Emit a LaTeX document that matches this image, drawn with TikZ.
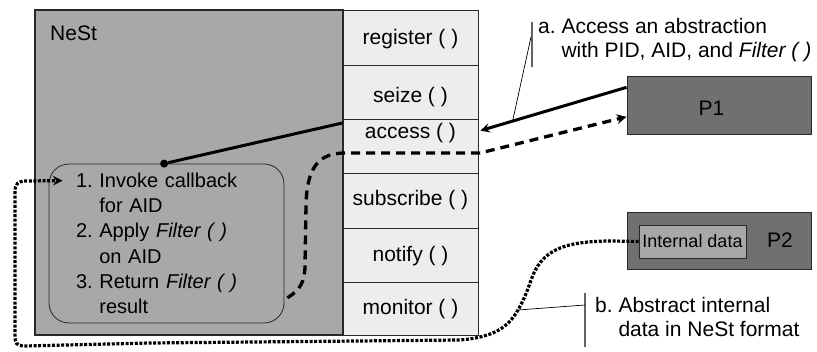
\documentclass[tikz,border=0pt]{standalone}
\usepackage{fontspec}
\setmainfont{Liberation Sans}
\usepackage{tikz}
\usetikzlibrary{arrows,shapes,calc,positioning}
\definecolor{grisNest}{RGB}{168,168,168}
\definecolor{grisCelda}{RGB}{237,237,237}
\definecolor{grisProc}{RGB}{112,112,112}
\definecolor{grisDato}{RGB}{168,168,168}
\definecolor{grisOscuro}{RGB}{40,40,40}
\definecolor{grisBarra}{RGB}{100,100,100}
\tikzstyle{txt}=[font=\fontsize{21}{25.3}\selectfont, inner sep=0pt]
\tikzstyle{ntxt}=[font=\fontsize{21}{24}\selectfont, inner sep=0pt,
                  align=left]
\tikzstyle{cell}=[rectangle, draw=grisOscuro, fill=grisCelda,
                  line width=0.9pt, minimum width=135pt, inner sep=0pt]
\tikzstyle{proc}=[rectangle, draw=grisOscuro, fill=grisProc,
                  line width=0.9pt, minimum width=184pt,
                  minimum height=58pt, inner sep=0pt]
\tikzstyle{link}=[line width=3pt]
\tikzstyle{call}=[->, >=stealth, line width=3pt]
\tikzstyle{back}=[->, >=stealth, line width=3.3pt,
                  dash pattern=on 9pt off 6pt]
\tikzstyle{abst}=[->, >=stealth, line width=3.2pt,
                  dash pattern=on 3pt off 1.6pt]
\tikzstyle{note}=[line width=0.7pt]
\tikzstyle{bar}=[line width=1.1pt, grisBarra]

\begin{document}
\frenchspacing
\begin{tikzpicture}[x=1pt,y=-1pt]
    \useasboundingbox (0,0) rectangle (817,352);

    \node (nest) [rectangle, draw=grisOscuro, fill=grisNest, line width=1.1pt,
        minimum width=308pt, minimum height=325pt, inner sep=0pt] at (189,172.5) {};
    \node (nest-l) [txt, anchor=base west] at (50,41) {NeSt};

    \foreach \n/\ya/\yb/\yl in {register/10/65/39,seize/65/119/97,access/119/173/133,
        subscribe/173/228/200,notify/228/282/256,monitor/282/335/309}
    {
        \node (\n) [cell, minimum height={(\yb-\ya)*1pt}] at (410.5,{(\ya+\yb)/2}) {};
        \node (\n-l) [txt] at (410.5,\yl) {\n\ ( )};
    }

    \node (cb) [txt, font=\fontsize{20}{25.3}\selectfont, rectangle, rounded corners=20pt,
        draw=grisOscuro, line width=0.8pt,
        minimum width=235pt, minimum height=159pt, text width=181pt,
        inner xsep=27pt, align=left] at (166.5,243.5)
        {1. Invoke callback\\\hphantom{1. }for AID\\2. Apply \textit{Filter ( )}\\
         \hphantom{2. }on AID\\3. Return \textit{Filter ( )}\\\hphantom{3. }result};
    \node (dot) [circle, fill=black, inner sep=0pt, minimum size=8pt]
        at ($(cb.north west)!0.49!(cb.north east)$) {};

    \node (p1) [proc] at (719,105) {};
    \node (p1-l) [txt] at (711.5,108) {P1};
    \node (p2) [proc, minimum height=57pt] at (719,240.5) {};
    \node (p2-l) [txt] at (780,240) {P2};
    \node (idata) [rectangle, draw=grisOscuro, fill=grisDato, line width=0.9pt,
        minimum width=107pt, minimum height=33pt, inner sep=0pt,
        font=\fontsize{18}{20}\selectfont] at (692.5,241.5) {Internal data};

    \node (annA) [ntxt, anchor=north west] at (538,18.5)
        {a. Access an abstraction\\\hphantom{a. }with PID, AID, and \textit{Filter ( )}};
    \node (annB) [ntxt, anchor=north west] at (595,297.5)
        {b. Abstract internal\\\hphantom{b. }data in NeSt format};

    \draw [call] ($(p1.north west)!0.2!(p1.south west)$) -- coordinate[pos=0.78] (ahit)
        ($(access.north east)!0.22!(access.south east)+(2,0)$);
    \draw [link] ($(access.north west)!0.08!(access.south west)$) -- (dot);

    \draw [back] ($(cb.north east)!0.84!(cb.south east)+(3,0)$)
        .. controls (300,290) and (305,282) .. (305,265) -- (306,205)
        .. controls (307,168) and (318,153) .. (345,153) -- (480,153)
        -- ($(p1.north west)!0.7!(p1.south west)$);

    \draw [abst] (idata.west) -- (612,241)
        .. controls (560,241) and (541,252) .. (531,280)
        .. controls (526,295) and (522,303) .. (518,310) coordinate (bhit)
        .. controls (508,327) and (495,337) .. (460,340) -- (150,343) -- (25,346)
        .. controls (16,346) and (15,343) .. (15,335) -- (15,192)
        .. controls (15,184) and (18,181) .. (26,181)
        -- ($(cb.north west)+(14,17)$);

    \coordinate (aBarT) at (532,22);
    \coordinate (aBarB) at (532,67);
    \coordinate (aBarM) at (531,37);
    \draw [bar] (aBarT) -- (aBarB);
    \draw [note] (aBarM) -- (ahit);

    \coordinate (bBarT) at (585,293);
    \coordinate (bBarB) at (585,347);
    \coordinate (bBarM) at (585,305);
    \draw [bar] (bBarT) -- (bBarB);
    \draw [note] (bhit) -- (bBarM);
\end{tikzpicture}
\end{document}
